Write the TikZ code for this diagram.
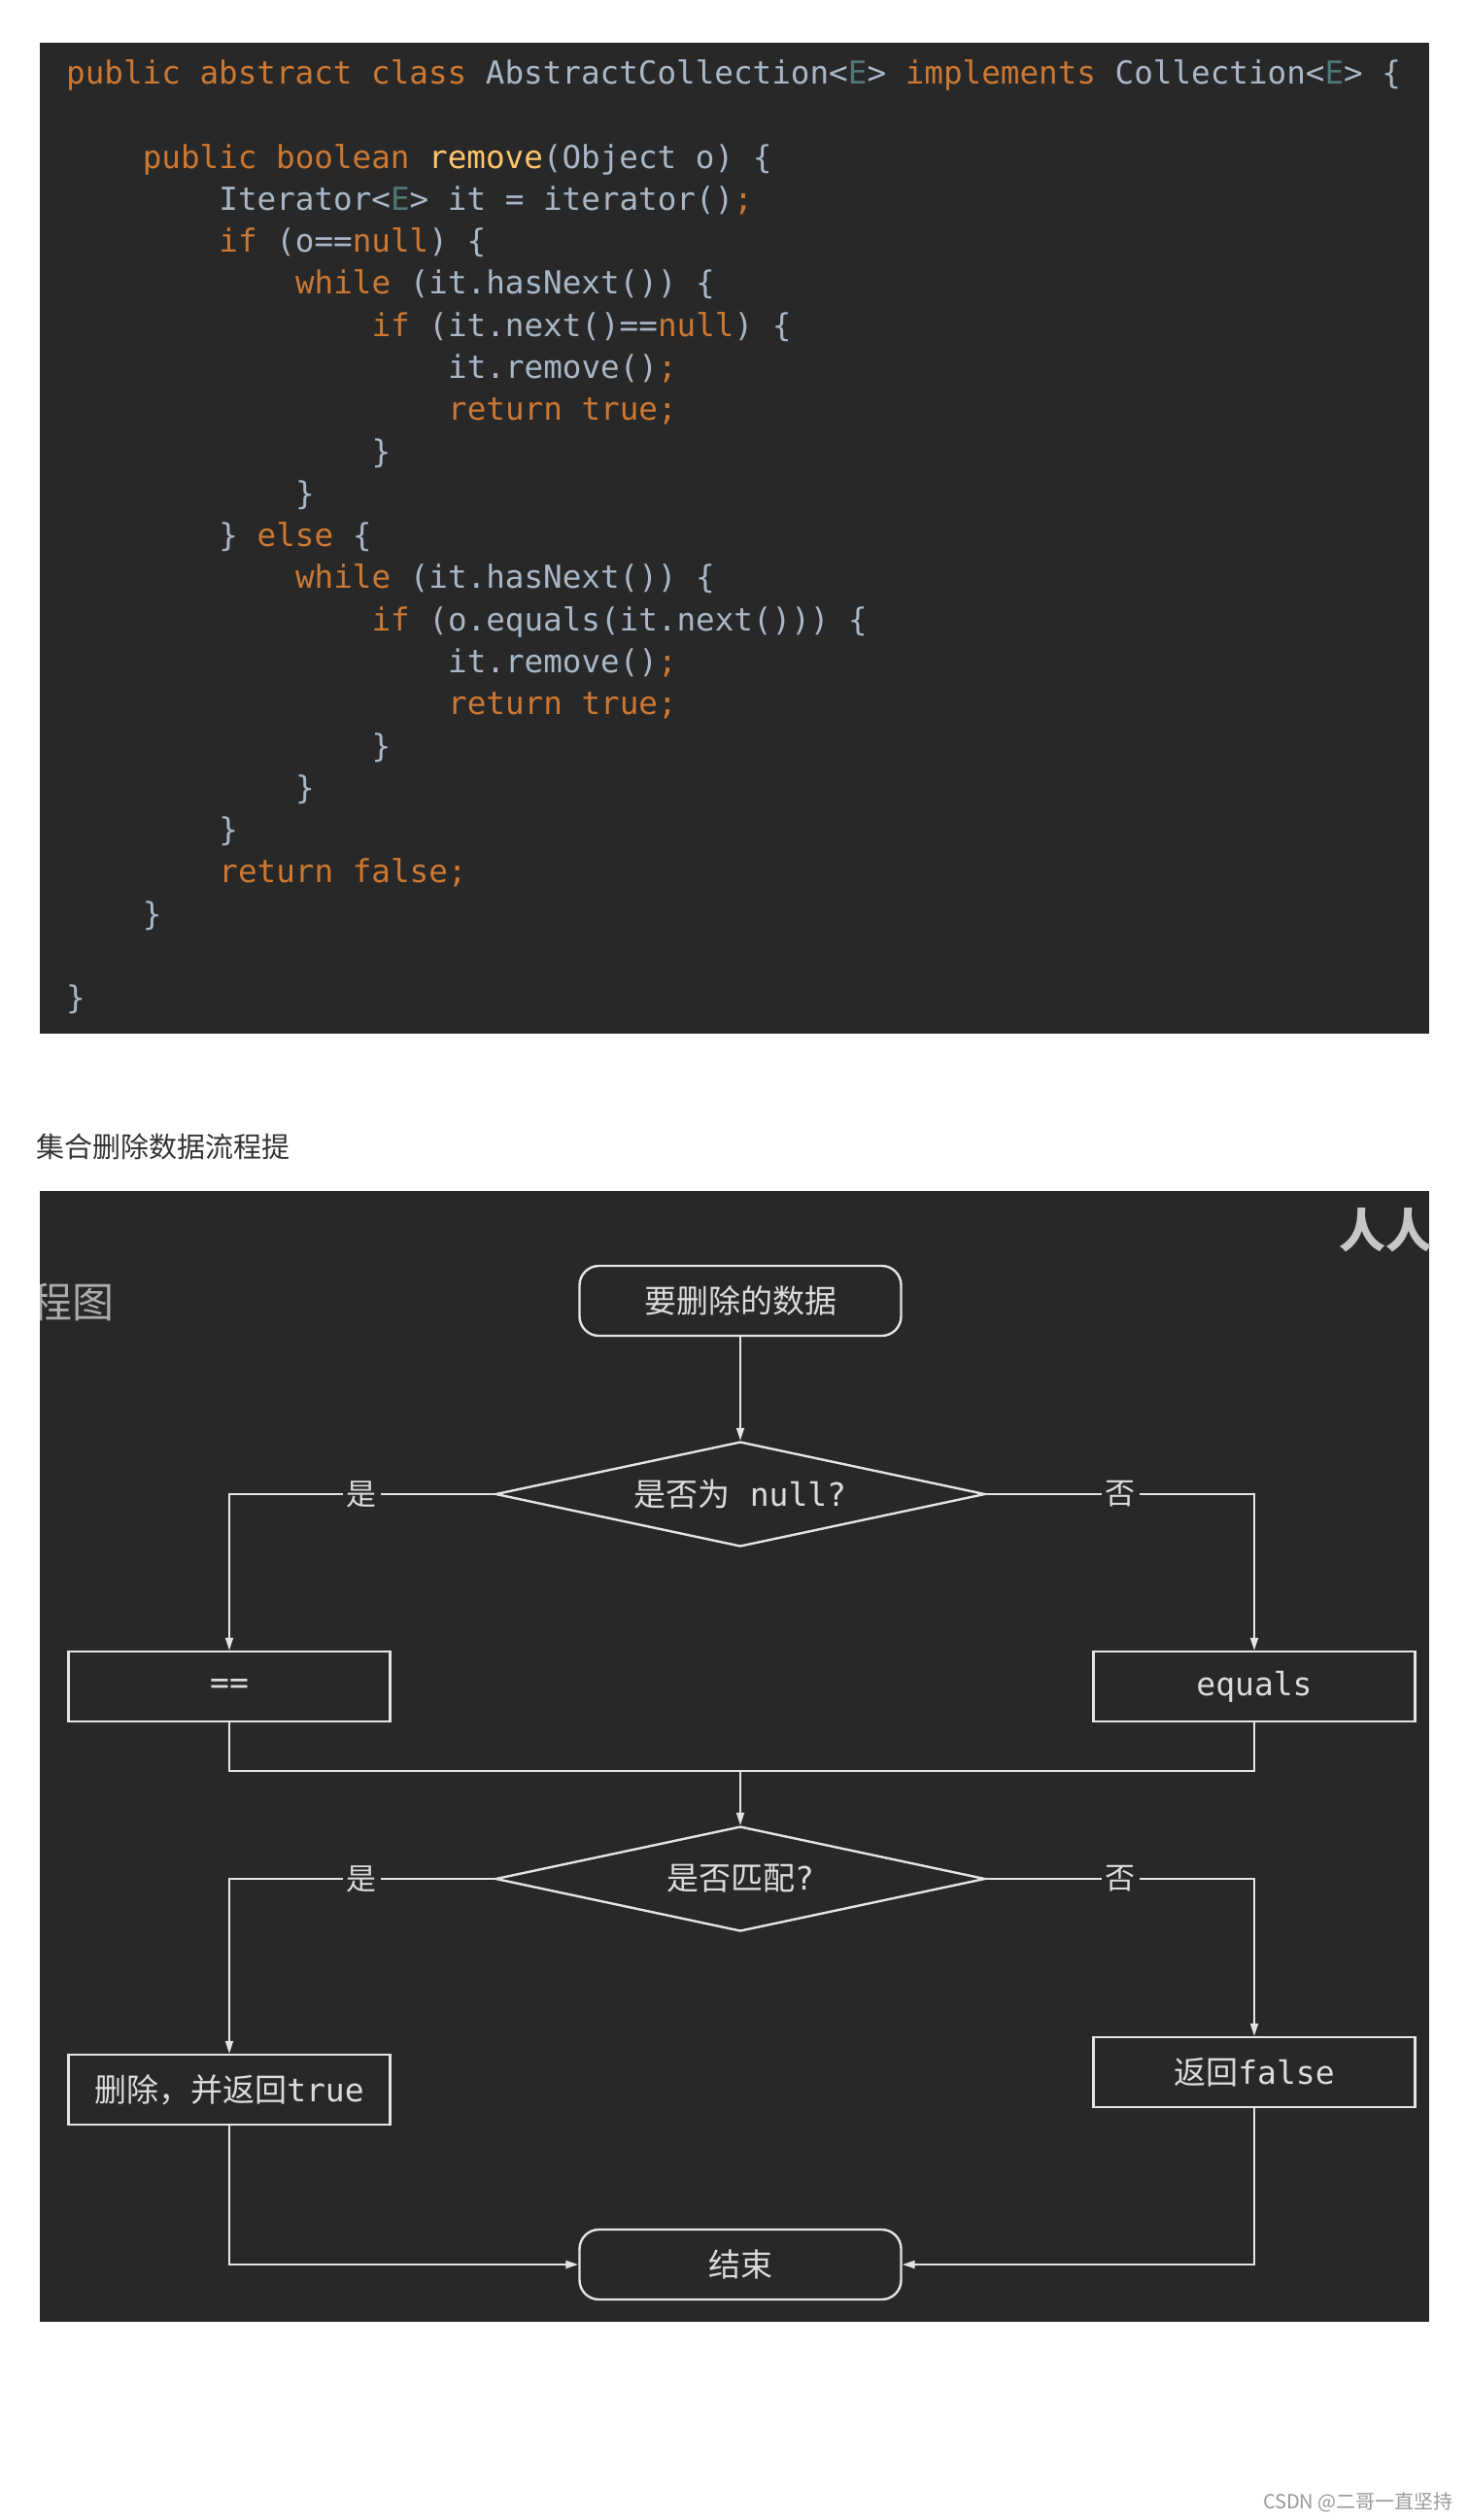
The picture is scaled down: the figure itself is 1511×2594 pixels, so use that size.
\documentclass[tikz,border=0pt]{standalone}
\usepackage{fontspec}
\usetikzlibrary{arrows.meta,shapes.geometric}
\newfontfamily\cjk{Noto Sans CJK SC}
\newfontfamily\mono{DejaVu Sans Mono}
\definecolor{cbg}{HTML}{282828}
\definecolor{ckw}{HTML}{CC7832}
\definecolor{cpl}{HTML}{A9B7C6}
\definecolor{ctp}{HTML}{507874}
\definecolor{cfn}{HTML}{FFC66D}
\definecolor{cln}{HTML}{E4E4E4}
\definecolor{cft}{HTML}{DCDCDC}
\newcommand\kwd[1]{\textcolor{ckw}{#1}}
\newcommand\typ[1]{\textcolor{ctp}{#1}}
\newcommand\fnm[1]{\textcolor{cfn}{#1}}
\begin{document}
\begin{tikzpicture}[x=1pt,y=-1pt,
  codeline/.style={anchor=base west, inner sep=0pt, font=\mono\fontsize{32.6}{40}\selectfont, text=cpl},
  fc/.style={font=\fontsize{33}{40}\selectfont, text=cft},
  boxn/.style={fc, draw=cln, line width=2.4pt, minimum width=331pt, minimum height=72pt, inner sep=0pt},
  roundn/.style={boxn, rounded corners=20pt},
  decn/.style={fc, draw=cln, line width=2.4pt, shape=diamond, shape aspect=4.67, minimum width=504pt, minimum height=108pt, inner sep=0pt},
  conn/.style={draw=cln, line width=2pt},
  arr/.style={conn, -{Triangle[length=13pt,width=8pt]}},
  lab/.style={fc, fill=cbg, inner sep=4pt, font=\cjk\fontsize{31}{36}\selectfont}
]
\useasboundingbox (0,0) rectangle (1511,2594);
\fill[white] (0,0) rectangle (1511,2594);

% ---------- code panel ----------
\fill[cbg] (41,44) rectangle (1471,1064);
\node[codeline] (c1) at (68,86.5) {\kwd{public abstract class} AbstractCollection<\typ{E}> \kwd{implements} Collection<\typ{E}> \{};
\node[codeline] (c3) at (146.6,173.0) {\kwd{public boolean} \fnm{remove}(Object o) \{};
\node[codeline] (c4) at (225.2,216.3) {Iterator<\typ{E}> it = iterator()\kwd{;}};
\node[codeline] (c5) at (225.2,259.6) {\kwd{if} (o==\kwd{null}) \{};
\node[codeline] (c6) at (303.8,302.9) {\kwd{while} (it.hasNext()) \{};
\node[codeline] (c7) at (382.4,346.2) {\kwd{if} (it.next()==\kwd{null}) \{};
\node[codeline] (c8) at (461,389.5) {it.remove()\kwd{;}};
\node[codeline] (c9) at (461,432.7) {\kwd{return true;}};
\node[codeline] (c10) at (382.4,476.0) {\}};
\node[codeline] (c11) at (303.8,519.3) {\}};
\node[codeline] (c12) at (225.2,562.6) {\} \kwd{else} \{};
\node[codeline] (c13) at (303.8,605.9) {\kwd{while} (it.hasNext()) \{};
\node[codeline] (c14) at (382.4,649.2) {\kwd{if} (o.equals(it.next())) \{};
\node[codeline] (c15) at (461,692.5) {it.remove()\kwd{;}};
\node[codeline] (c16) at (461,735.7) {\kwd{return true;}};
\node[codeline] (c17) at (382.4,779.0) {\}};
\node[codeline] (c18) at (303.8,822.3) {\}};
\node[codeline] (c19) at (225.2,865.6) {\}};
\node[codeline] (c20) at (225.2,908.9) {\kwd{return false;}};
\node[codeline] (c21) at (146.6,952.2) {\}};
\node[codeline] (c23) at (68,1038.7) {\}};

% ---------- title ----------
\node[anchor=west, inner sep=0pt, text=black!80, font=\cjk\fontsize{29}{34}\selectfont] (title) at (37,1180) {集合删除数据流程提};

% ---------- flowchart panel ----------
\fill[cbg] (41,1226) rectangle (1471,2390);
\begin{scope}
  \clip (41,1226) rectangle (1471,2390);
  \node[anchor=west, inner sep=0pt, text=black!22, font=\cjk\bfseries\fontsize{48}{52}\selectfont] (wm1) at (1378,1266) {人人};
  \node[anchor=east, inner sep=0pt, text=black!33, font=\cjk\fontsize{43}{48}\selectfont] (wm2) at (118,1340) {程图};
\end{scope}

\node[roundn] (start) at (762,1339) {\cjk 要删除的数据};
\node[decn] (d1) at (762,1538) {{\cjk 是否为}{\mono\ null?}};
\node[boxn] (eqq) at (236,1736) {\mono ==};
\node[boxn] (eqs) at (1291,1736) {\mono equals};
\coordinate (m) at (762,1823);
\node[decn] (d2) at (762,1934) {{\cjk 是否匹配}{\mono ?}};
\node[boxn] (del) at (236,2151) {{\cjk 删除，并返回}{\mono true}};
\node[boxn] (retf) at (1291,2133) {{\cjk 返回}{\mono false}};
\node[roundn] (end) at (762,2331) {\cjk 结束};

\draw[arr] (start.south) -- (d1.north);
\draw[arr] (d1.west) -| (eqq.north) node[lab, pos=0.25] {是};
\draw[arr] (d1.east) -| (eqs.north) node[lab, pos=0.25] {否};
\draw[conn] (eqq.south) |- (m) -| (eqs.south);
\draw[arr] (m) -- (d2.north);
\draw[arr] (d2.west) -| (del.north) node[lab, pos=0.25] {是};
\draw[arr] (d2.east) -| (retf.north) node[lab, pos=0.25] {否};
\draw[arr] (del.south) |- (end.west);
\draw[arr] (retf.south) |- (end.east);

% ---------- footer watermark ----------
\node[anchor=east, inner sep=0pt, text=black!40, font=\cjk\fontsize{20}{24}\selectfont] (csdn) at (1496,2576) {CSDN @二哥一直坚持};
\end{tikzpicture}
\end{document}
